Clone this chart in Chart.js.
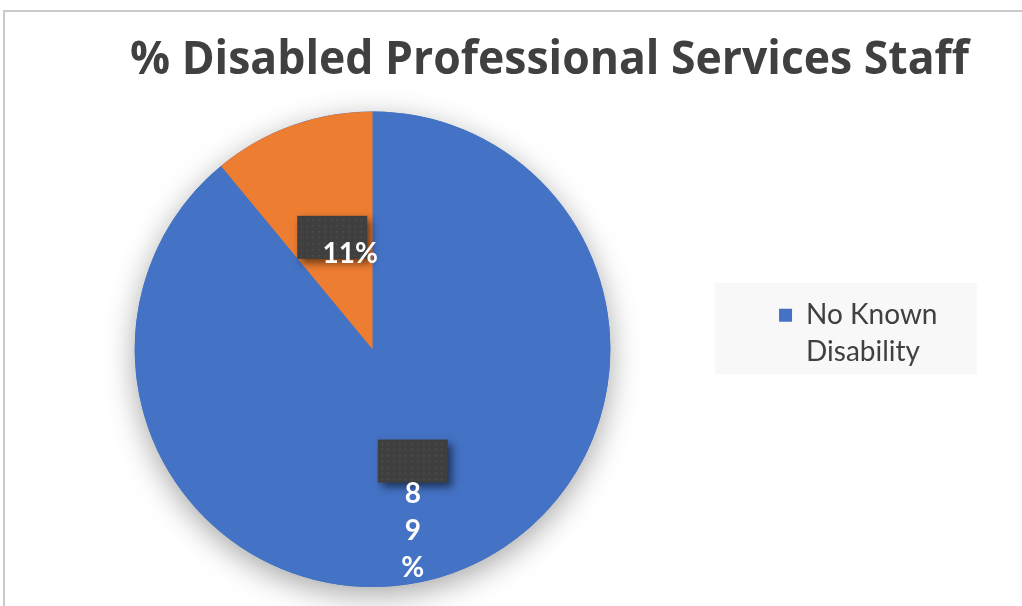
<!DOCTYPE html>
<html>
<head>
<meta charset="utf-8">
<title>% Disabled Professional Services Staff</title>
<script src="https://cdn.jsdelivr.net/npm/chart.js@4.4.1/dist/chart.umd.min.js"></script>
<style>
    html, body { margin: 0; padding: 0; background: #fff; overflow: hidden; }
    .frame {
        position: absolute; left: 3px; top: 10px; width: 1019px; height: 596px;
        border-top: 2px solid #cacaca; border-left: 2px solid #cacaca;
    }
    .chart-wrap { position: absolute; left: 0; top: 0; width: 1022px; height: 606px; }
</style>
</head>
<body>
<div class="frame"></div>
<div class="chart-wrap"><canvas id="staffChart"></canvas></div>
<script>
// Chart data
const categories = ['No Known Disability', 'Disabled'];
const shares = [89, 11];
const sliceColors = ['#4472C4', '#ED7D31'];
const chartTitle = '% Disabled Professional Services Staff';

const FONT = 'Lato, "Open Sans", sans-serif';
const TITLE_FONT = '"Open Sans", Lato, sans-serif';

// wrap a legend label into short lines
function wrapWords(text, maxChars) {
    const lines = [];
    let line = '';
    text.split(' ').forEach(word => {
        if (line && (line + ' ' + word).length > maxChars) {
            lines.push(line);
            line = word;
        } else {
            line = line ? line + ' ' + word : word;
        }
    });
    if (line) lines.push(line);
    return lines;
}

// soft shadow under the whole pie
const pieShadow = {
    id: 'pieShadow',
    beforeDatasetsDraw(chart) {
        const arc = chart.getDatasetMeta(0).data[0];
        if (!arc) return;
        const ctx = chart.ctx;
        ctx.save();
        ctx.shadowColor = 'rgba(0, 0, 0, 0.35)';
        ctx.shadowBlur = 30;
        ctx.shadowOffsetY = 8;
        ctx.fillStyle = sliceColors[0];
        ctx.beginPath();
        ctx.arc(arc.x, arc.y, arc.outerRadius, 0, Math.PI * 2);
        ctx.fill();
        ctx.restore();
    }
};

// dark label boxes like the original export
const sliceLabels = {
    id: 'sliceLabels',
    afterDatasetsDraw(chart, args, opts) {
        const ctx = chart.ctx;
        const meta = chart.getDatasetMeta(0);
        meta.data.forEach((arc, i) => {
            const pos = arc.tooltipPosition();
            const bw = opts.boxWidth, bh = opts.boxHeight;
            const bx = pos.x - bw / 2, by = pos.y - bh / 2;

            ctx.save();
            ctx.shadowColor = 'rgba(0, 0, 0, 0.55)';
            ctx.shadowBlur = 8;
            ctx.shadowOffsetX = 4;
            ctx.shadowOffsetY = 4;
            ctx.fillStyle = '#3f3f3f';
            ctx.fillRect(bx, by, bw, bh);
            ctx.restore();

            // faint dotted texture
            ctx.save();
            ctx.fillStyle = 'rgba(255, 255, 255, 0.06)';
            for (let yy = by + 3; yy < by + bh - 1; yy += 6) {
                for (let xx = bx + 3; xx < bx + bw - 1; xx += 6) {
                    ctx.fillRect(xx, yy, 2, 2);
                }
            }
            ctx.restore();

            const text = shares[i] + '%';
            const shift = opts.textShift[i];
            const lines = shift.vertical ? text.split('') : [text];
            ctx.save();
            ctx.fillStyle = '#ffffff';
            ctx.font = 'bold 28px ' + FONT;
            ctx.textAlign = 'center';
            ctx.textBaseline = 'middle';
            lines.forEach((ln, k) => {
                ctx.fillText(ln, pos.x + shift.dx, pos.y + shift.dy + k * opts.lineGap);
            });
            ctx.restore();
        });
    }
};

// light grey panel behind the legend
const legendPanel = {
    id: 'legendPanel',
    afterDraw(chart, args, opts) {
        const hb = chart.legend && chart.legend.legendHitBoxes && chart.legend.legendHitBoxes[0];
        if (!hb) return;
        const ctx = chart.ctx;
        ctx.save();
        ctx.globalCompositeOperation = 'destination-over';
        ctx.fillStyle = '#f8f8f8';
        ctx.fillRect(hb.left - opts.padLeft, hb.top - opts.padTop,
            opts.width, opts.height);
        ctx.restore();
    }
};

new Chart(document.getElementById('staffChart'), {
    type: 'pie',
    data: {
        labels: categories,
        datasets: [{
            data: shares,
            backgroundColor: sliceColors,
            borderWidth: 0
        }]
    },
    options: {
        responsive: true,
        maintainAspectRatio: false,
        animation: false,
        layout: {
            padding: { left: 130, right: 53, top: 0, bottom: 19 }
        },
        plugins: {
            title: {
                display: true,
                text: chartTitle,
                align: 'start',
                color: '#404040',
                font: { family: TITLE_FONT, size: 46, weight: 'bold', lineHeight: 1.2 },
                padding: { top: 33, bottom: 23.2 }
            },
            legend: {
                position: 'right',
                fullSize: false,
                title: {
                    display: true,
                    text: '',
                    font: { size: 12, lineHeight: 1 },
                    padding: { top: 0, bottom: 2.8 }
                },
                labels: {
                    boxWidth: 13,
                    boxHeight: 13,
                    padding: 164,
                    color: '#404040',
                    font: { family: FONT, size: 28, lineHeight: 1.32 },
                    generateLabels(chart) {
                        const items = Chart.overrides.pie.plugins.legend.labels.generateLabels(chart);
                        items.forEach(item => {
                            const lines = wrapWords(item.text, 10);
                            // trailing spaces keep the widest line measured, blank line lifts the block
                            lines[0] = lines[0] + '   ';
                            lines.push('');
                            item.text = lines;
                            item.strokeStyle = item.fillStyle;
                            item.lineWidth = 0;
                        });
                        return items;
                    },
                    filter: item => item.index === 0
                }
            },
            tooltip: { enabled: false },
            sliceLabels: {
                boxWidth: 70,
                boxHeight: 43,
                lineGap: 37,
                textShift: [
                    { dx: 0, dy: 33, vertical: true },
                    { dx: 18, dy: 17, vertical: false }
                ]
            },
            legendPanel: { padLeft: 64, padTop: 18, width: 262, height: 91 }
        }
    },
    plugins: [pieShadow, sliceLabels, legendPanel]
});
</script>
</body>
</html>
